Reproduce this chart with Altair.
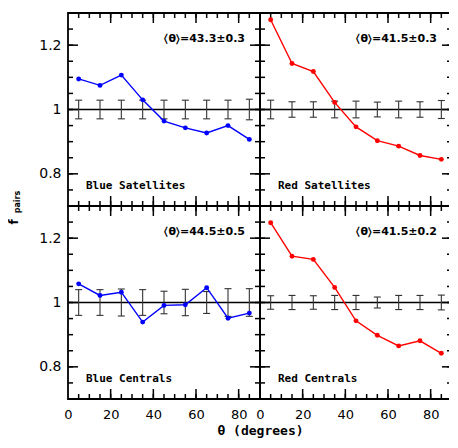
import altair as alt
import pandas as pd

theta = [5, 15, 25, 35, 45, 55, 65, 75, 85]
blue_sat = [1.095, 1.075, 1.107, 1.030, 0.964, 0.943, 0.927, 0.950, 0.907]
blue_sat_err = [0.029, 0.029, 0.029, 0.029, 0.029, 0.029, 0.029, 0.029, 0.032]
red_sat = [1.279, 1.143, 1.118, 1.022, 0.946, 0.903, 0.886, 0.857, 0.845]
red_sat_err = [0.029, 0.024, 0.024, 0.026, 0.026, 0.023, 0.026, 0.024, 0.028]
blue_cen = [1.058, 1.022, 1.032, 0.939, 0.991, 0.993, 1.046, 0.951, 0.967]
blue_cen_err = [0.040, 0.040, 0.042, 0.040, 0.035, 0.041, 0.034, 0.043, 0.043]
red_cen = [1.248, 1.144, 1.134, 1.047, 0.943, 0.898, 0.865, 0.881, 0.842]
red_cen_err = [0.021, 0.022, 0.021, 0.022, 0.022, 0.017, 0.022, 0.022, 0.023]

panel_names = ["Blue Satellites", "Red Satellites", "Blue Centrals", "Red Centrals"]
annotations = ["\u2329\u03b8\u232a=43.3\u00b10.3", "\u2329\u03b8\u232a=41.5\u00b10.3",
               "\u2329\u03b8\u232a=44.5\u00b10.5", "\u2329\u03b8\u232a=41.5\u00b10.2"]

x_minor = [5, 10, 15, 20, 25, 30, 35, 40, 45, 50, 55, 60, 65, 70, 75, 80, 85]
x_major = [20, 40, 60, 80]
y_minor = [0.75, 0.80, 0.85, 0.90, 0.95, 1.00, 1.05, 1.10, 1.15, 1.20, 1.25]
y_major = [0.8, 1.0, 1.2]
x_labels = [0, 20, 40, 60, 80]
y_labels = [0.8, 1.0, 1.2]
x_domain = [0, 90]
y_domain = [0.7, 1.3]

W = 192
H = 193
MAJ = 10
MIN = 5
SANS = "DejaVu Sans"
MONO = "DejaVu Sans Mono"


def make_panel(vals, errs, color, name, ann, show_x, show_y, x_title, y_title):
    if show_x:
        xaxis = alt.Axis(values=x_labels, ticks=False, domain=False, grid=False,
                         labelFont=SANS, labelFontSize=13, labelColor="black",
                         labelPadding=9, labelFlush=False, labelOverlap=False,
                         title=("\u03b8 (degrees)" if x_title else None),
                         titleFont=MONO, titleFontSize=13, titleFontWeight="bold",
                         titleColor="black", titleX=W, titleAlign="center",
                         titlePadding=3)
    else:
        xaxis = None
    if show_y:
        yaxis = alt.Axis(values=y_labels, ticks=False, domain=False, grid=False,
                         labelFont=SANS, labelFontSize=14, labelColor="black",
                         labelPadding=7, format=".1~f", labelFlush=False,
                         labelOverlap=False, title=None)
    else:
        yaxis = None
    xs = alt.Scale(domain=x_domain, nice=False, zero=False)
    ys = alt.Scale(domain=y_domain, nice=False, zero=False)

    def X(f):
        return alt.X(f, type="quantitative", scale=xs, axis=xaxis)

    def Y(f):
        return alt.Y(f, type="quantitative", scale=ys, axis=yaxis)

    df = pd.DataFrame({"theta": theta, "v": vals,
                       "lo": [1 - e for e in errs], "hi": [1 + e for e in errs]})

    layers = []
    tick_style = dict(color="black", strokeWidth=1.5)
    for ticks, ln in ((x_minor, MIN), (x_major, MAJ)):
        tdf = pd.DataFrame({"t": ticks})
        layers.append(alt.Chart(tdf).mark_rule(**tick_style).encode(
            x=X("t"), y=alt.value(0), y2=alt.value(ln)))
        layers.append(alt.Chart(tdf).mark_rule(**tick_style).encode(
            x=X("t"), y=alt.value(H), y2=alt.value(H - ln)))
    for ticks, ln in ((y_minor, MIN), (y_major, MAJ)):
        tdf = pd.DataFrame({"t": ticks})
        layers.append(alt.Chart(tdf).mark_rule(**tick_style).encode(
            y=Y("t"), x=alt.value(0), x2=alt.value(ln)))
        layers.append(alt.Chart(tdf).mark_rule(**tick_style).encode(
            y=Y("t"), x=alt.value(W), x2=alt.value(W - ln)))

    layers.append(alt.Chart(pd.DataFrame({"one": [1.0]})).mark_rule(
        color="black", strokeWidth=1.3).encode(y=Y("one")))

    layers.append(alt.Chart(df).mark_rule(color="#333333", strokeWidth=1.1).encode(
        x=X("theta"), y=Y("lo"), y2="hi"))
    layers.append(alt.Chart(df).mark_tick(color="#333333", orient="horizontal",
                                          size=7, thickness=1.1, opacity=1).encode(
        x=X("theta"), y=Y("lo")))
    layers.append(alt.Chart(df).mark_tick(color="#333333", orient="horizontal",
                                          size=7, thickness=1.1, opacity=1).encode(
        x=X("theta"), y=Y("hi")))

    layers.append(alt.Chart(df).mark_line(color=color, strokeWidth=1.4).encode(
        x=X("theta"), y=Y("v")))
    layers.append(alt.Chart(df).mark_circle(color=color, size=24, opacity=1).encode(
        x=X("theta"), y=Y("v")))

    layers.append(alt.Chart(pd.DataFrame({"s": [name]})).mark_text(
        align="left", baseline="middle", font=MONO, fontSize=11,
        fontWeight="bold", color="black").encode(
        x=alt.value(18), y=alt.value(173), text="s:N"))
    layers.append(alt.Chart(pd.DataFrame({"s": [ann]})).mark_text(
        align="right", baseline="middle", font=SANS, fontSize=11,
        fontWeight="bold", color="black").encode(
        x=alt.value(177), y=alt.value(26), text="s:N"))

    if y_title:
        layers.append(alt.Chart(pd.DataFrame({"s": ["f"]})).mark_text(
            align="center", baseline="middle", font=SANS, fontSize=12,
            fontWeight="bold", angle=270, color="black").encode(
            x=alt.value(-54), y=alt.value(209), text="s:N"))
        layers.append(alt.Chart(pd.DataFrame({"s": ["pairs"]})).mark_text(
            align="center", baseline="middle", font=SANS, fontSize=8,
            fontWeight="bold", angle=270, color="black").encode(
            x=alt.value(-50), y=alt.value(189), text="s:N"))

    return alt.layer(*layers).properties(width=W, height=H)


p1 = make_panel(blue_sat, blue_sat_err, "#0000ff", panel_names[0], annotations[0],
                False, True, False, True)
p2 = make_panel(red_sat, red_sat_err, "#ff0000", panel_names[1], annotations[1],
                False, False, False, False)
p3 = make_panel(blue_cen, blue_cen_err, "#0000ff", panel_names[2], annotations[2],
                True, True, True, False)
p4 = make_panel(red_cen, red_cen_err, "#ff0000", panel_names[3], annotations[3],
                True, False, False, False)

chart = alt.concat(p1, p2, p3, p4, columns=2, spacing=0, bounds="flush").configure_view(
    stroke="black", strokeWidth=1.8
).properties(
    padding={"left": -1, "top": 3, "right": -5, "bottom": 1},
    background="white"
)

chart.save("out.html", embed_options={"renderer": "svg", "actions": False})
